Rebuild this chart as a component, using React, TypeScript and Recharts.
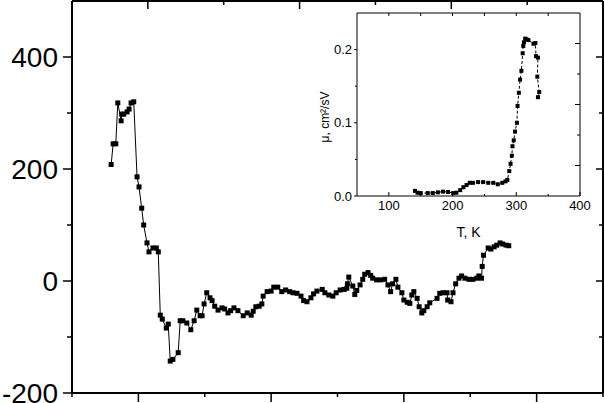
import React from 'react';
import { LineChart, Line, XAxis, YAxis, ReferenceLine } from 'recharts';

const mainX = [
  0.59, 0.62, 0.66, 0.69, 0.74, 0.75, 0.78, 0.83, 0.86, 0.89, 0.93, 0.98, 1.01, 1.05, 1.08, 1.13,
  1.16, 1.22, 1.27, 1.3, 1.33, 1.36, 1.42, 1.45, 1.48, 1.52, 1.6, 1.63, 1.67, 1.73, 1.79, 1.84,
  1.88, 1.93, 1.96, 1.99, 2.03, 2.08, 2.11, 2.15, 2.2, 2.26, 2.3, 2.35, 2.39, 2.44, 2.5, 2.58,
  2.64, 2.7, 2.73, 2.77, 2.82, 2.86, 2.88, 2.94, 3.0, 3.04, 3.1, 3.16, 3.22, 3.28, 3.33, 3.39,
  3.45, 3.49, 3.54, 3.6, 3.64, 3.69, 3.77, 3.81, 3.87, 3.93, 3.98, 4.04, 4.1, 4.14, 4.15, 4.17,
  4.23, 4.26, 4.29, 4.34, 4.38, 4.41, 4.46, 4.5, 4.53, 4.59, 4.65, 4.71, 4.76, 4.8, 4.83, 4.88,
  4.91, 4.97, 5.0, 5.05, 5.09, 5.12, 5.15, 5.2, 5.23, 5.27, 5.3, 5.35, 5.39, 5.5, 5.54, 5.59,
  5.65, 5.66, 5.71, 5.74, 5.78, 5.83, 5.87, 5.92, 5.98, 6.04, 6.1, 6.13, 6.17, 6.18, 6.2, 6.27,
  6.31, 6.36, 6.4, 6.45, 6.49, 6.54, 6.58,
];
const mainY = [
  208, 245, 245, 318, 286, 298, 298, 302, 307, 318, 320, 186, 168, 130, 100, 68,
  52, 59, 59, 52, -61, -68, -84, -77, -143, -140, -128, -71, -71, -75, -87, -71,
  -52, -62, -62, -41, -21, -30, -35, -45, -52, -48, -50, -57, -53, -48, -53, -62,
  -57, -61, -54, -46, -45, -41, -27, -19, -18, -11, -11, -19, -16, -19, -21, -22,
  -27, -35, -37, -30, -23, -18, -15, -21, -25, -27, -21, -16, -15, -13, -5, 7,
  -9, -24, -17, -7, 3, 12, 15, 10, 5, 2, 2, 3, -7, -19, -5, 3,
  -11, -21, -34, -38, -40, -25, -19, -31, -46, -57, -53, -46, -39, -31, -22, -21,
  -21, -34, -37, -21, -5, 5, 9, 5, 3, 3, 5, 9, 5, 26, 46, 59,
  57, 61, 64, 68, 66, 64, 63,
];

// inset: mobility vs temperature
const insetT = [
  141, 145, 150, 161, 169, 177, 185, 193, 201, 206, 212, 217, 222, 227, 232, 240,
  248, 256, 264, 271, 278, 283, 286, 289, 291, 293, 294, 296, 298, 301, 302, 304,
  306, 308, 310, 311, 312, 314, 316, 319, 327, 330, 331, 334, 333, 336, 334,
];
const insetMu = [
  0.007, 0.0045, 0.004, 0.004, 0.004, 0.005, 0.006, 0.0055, 0.004, 0.0045, 0.008, 0.012, 0.015, 0.018, 0.018, 0.019,
  0.019, 0.018, 0.018, 0.016, 0.018, 0.02, 0.022, 0.034, 0.044, 0.055, 0.068, 0.076, 0.088, 0.1, 0.123, 0.141,
  0.159, 0.171, 0.195, 0.205, 0.21, 0.215, 0.214, 0.213, 0.208, 0.209, 0.191, 0.189, 0.163, 0.142, 0.135,
];

const MAIN_X_DOMAIN = [0, 8];
const MAIN_Y_DOMAIN = [-200, 500];
const INSET_X_DOMAIN = [50, 400];
const INSET_Y_DOMAIN = [0, 0.25];

const mainYTicks = [-200, -100, 0, 100, 200, 300, 400];
const mainXTicks = [0, 1, 2, 3, 4, 5, 6, 7, 8];
const mainTopSteps = [1, 2, 3, 4, 5, 6]; // top frame is divided in 7
const insetXTicks = [100, 150, 200, 250, 300, 350, 400];
const insetTopTicks = [100, 150, 200, 250, 300, 350];
const insetYTicks = [0, 0.05, 0.1, 0.15, 0.2];
const insetRightSteps = [1, 2, 3, 4, 5]; // inset right frame is divided in 6

const mainData = mainX.map((x, i) => ({ x, y: mainY[i] }));
const insetData = insetT.map((t, i) => ({ t, mu: insetMu[i] }));

// units per pixel, to give the frame ticks a length in pixels
const MAIN_XU = 8 / 531;
const MAIN_YU = 700 / 392;
const INSET_XU = 350 / 223;
const INSET_YU = 0.25 / 183;

const FONT = '"Liberation Sans", Arial, sans-serif';
const axisLine = { stroke: '#000', strokeWidth: 2 };
const thinLine = { stroke: '#000', strokeWidth: 1 };

const square = (size: number) => (props: any) => {
  const { cx, cy, index } = props;
  if (cx == null || cy == null) return <g key={index} />;
  return <rect key={index} x={cx - size / 2} y={cy - size / 2} width={size} height={size} fill="#000" />;
};

const MainLeftTick = (props: any) => {
  const { x, y, payload } = props;
  const major = payload.value % 200 === 0;
  return (
    <g>
      <line x1={x - (major ? 9 : 5)} x2={x} y1={y} y2={y} stroke="#000" strokeWidth={1.5} />
      {major && (
        <text x={x - 14} y={y + 10} textAnchor="end" fontSize={28} fontFamily={FONT} fill="#000">
          {payload.value}
        </text>
      )}
    </g>
  );
};

const MainBottomTick = (props: any) => {
  const { x, y, payload } = props;
  const major = payload.value % 2 === 1;
  return <line x1={x} x2={x} y1={y} y2={y + (major ? 9 : 4)} stroke="#000" strokeWidth={1.5} />;
};

const InsetLeftTick = (props: any) => {
  const { x, y, payload } = props;
  const major = Math.round(payload.value * 100) % 10 === 0;
  return (
    <g>
      <line x1={x - (major ? 3 : 2)} x2={x} y1={y} y2={y} stroke="#000" strokeWidth={1} />
      {major && (
        <text x={x - 5} y={y + 4.5} textAnchor="end" fontSize={13} fontFamily={FONT} fill="#000">
          {payload.value.toFixed(1)}
        </text>
      )}
    </g>
  );
};

const InsetBottomTick = (props: any) => {
  const { x, y, payload } = props;
  const major = payload.value % 100 === 0;
  return (
    <g>
      <line x1={x} x2={x} y1={y} y2={y - (major ? 4 : 2)} stroke="#000" strokeWidth={1} />
      {major && (
        <text x={x} y={y + 14} textAnchor="middle" fontSize={13} fontFamily={FONT} fill="#000">
          {payload.value}
        </text>
      )}
    </g>
  );
};

const MuLabel = (props: any) => {
  const { viewBox } = props;
  const cx = viewBox.x + 25;
  const cy = viewBox.y + 104;
  return (
    <text
      x={cx}
      y={cy}
      transform={`rotate(-90 ${cx} ${cy})`}
      textAnchor="middle"
      dominantBaseline="central"
      fontSize={12}
      fontFamily={FONT}
      fill="#000"
    >
      μ, cm²/sV
    </text>
  );
};

const tickOnly = { tickLine: false, tickSize: 0, tickMargin: 0, interval: 0 as const, allowDataOverflow: true };

export default function App() {
  const [x0, x1] = MAIN_X_DOMAIN;
  const [, y1] = MAIN_Y_DOMAIN;
  const [ix0, ix1] = INSET_X_DOMAIN;
  const [iy0, iy1] = INSET_Y_DOMAIN;
  return (
    <div style={{ position: 'absolute', left: 0, top: 0, width: 605, height: 403, background: '#fff' }}>
      <div style={{ position: 'absolute', left: 0, top: 0 }}>
        <LineChart width={605} height={403} data={mainData} margin={{ top: 1, right: 2, bottom: 0, left: 0 }}>
          <XAxis dataKey="x" type="number" domain={MAIN_X_DOMAIN} ticks={mainXTicks} height={10}
            axisLine={axisLine} tick={MainBottomTick} {...tickOnly} />
          <YAxis type="number" domain={MAIN_Y_DOMAIN} ticks={mainYTicks} width={72}
            axisLine={axisLine} tick={MainLeftTick} {...tickOnly} />
          {/* top and right frame */}
          <ReferenceLine y={y1} stroke="#000" strokeWidth={2} ifOverflow="visible" />
          <ReferenceLine x={x1} stroke="#000" strokeWidth={2} ifOverflow="visible" />
          {mainTopSteps.map((k) => {
            const tx = x0 + ((x1 - x0) * k) / 7;
            const len = (k % 2 === 1 ? 8 : 4) * MAIN_YU;
            return (
              <ReferenceLine key={`t${k}`} segment={[{ x: tx, y: y1 }, { x: tx, y: y1 - len }]}
                stroke="#000" strokeWidth={1.5} ifOverflow="visible" />
            );
          })}
          {mainYTicks.map((v) => {
            const len = (v % 200 === 0 ? 7 : 4) * MAIN_XU;
            return (
              <ReferenceLine key={`r${v}`} segment={[{ x: x1, y: v }, { x: x1 - len, y: v }]}
                stroke="#000" strokeWidth={1.5} ifOverflow="visible" />
            );
          })}
          <Line dataKey="y" stroke="#000" strokeWidth={1} dot={square(5)} activeDot={false} isAnimationActive={false} />
        </LineChart>
      </div>
      <div style={{ position: 'absolute', left: 300, top: 0 }}>
        <LineChart width={305} height={250} data={insetData} margin={{ top: 13, right: 25, bottom: 0, left: 0 }}>
          <XAxis dataKey="t" type="number" domain={INSET_X_DOMAIN} ticks={insetXTicks} height={54}
            axisLine={thinLine} tick={InsetBottomTick} {...tickOnly}
            label={{ value: 'T, K', position: 'insideBottom', offset: 13, fontSize: 14, fontFamily: FONT, fill: '#000' }} />
          <YAxis type="number" domain={INSET_Y_DOMAIN} ticks={insetYTicks} width={57}
            axisLine={thinLine} tick={InsetLeftTick} {...tickOnly} label={<MuLabel />} />
          <ReferenceLine y={iy1} stroke="#000" strokeWidth={1} ifOverflow="visible" />
          <ReferenceLine x={ix1} stroke="#000" strokeWidth={1} ifOverflow="visible" />
          {insetTopTicks.map((v) => (
            <ReferenceLine key={`t${v}`} segment={[{ x: v, y: iy1 }, { x: v, y: iy1 - 3 * INSET_YU }]}
              stroke="#000" strokeWidth={1} ifOverflow="visible" />
          ))}
          {insetRightSteps.map((k) => {
            const ty = iy0 + ((iy1 - iy0) * k) / 6;
            const len = (k % 2 === 1 ? 5 : 3) * INSET_XU;
            return (
              <ReferenceLine key={`r${k}`} segment={[{ x: ix1, y: ty }, { x: ix1 - len, y: ty }]}
                stroke="#000" strokeWidth={1} ifOverflow="visible" />
            );
          })}
          <Line dataKey="mu" stroke="#000" strokeWidth={1} strokeDasharray="3 2" dot={square(4)}
            activeDot={false} isAnimationActive={false} />
        </LineChart>
      </div>
    </div>
  );
}
